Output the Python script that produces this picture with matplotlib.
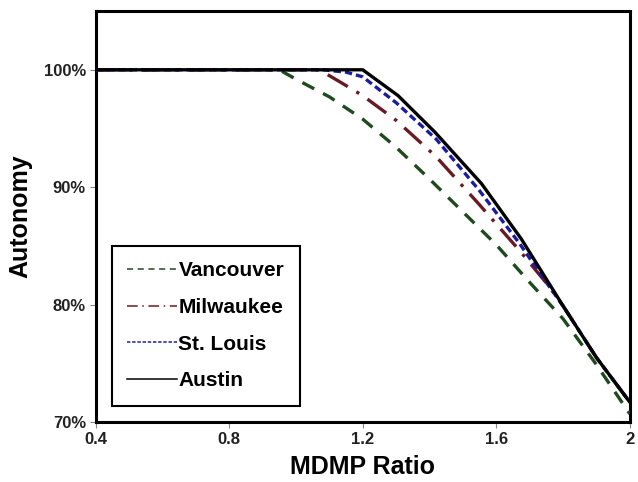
import matplotlib
matplotlib.use("Agg")
import matplotlib.pyplot as plt
from matplotlib.lines import Line2D

plt.rcParams['font.family'] = ['Liberation Sans', 'DejaVu Sans']

# Data
van_x = [0.4, 0.95, 1.0, 1.1, 1.2, 1.3, 1.4, 1.5, 1.6, 1.7, 1.8, 1.9, 2.0]
van_y = [100, 100, 99.2, 97.7, 95.8, 93.4, 90.7, 87.9, 85.1, 81.9, 78.8, 74.9, 70.7]

mil_x = [0.4, 1.07, 1.13, 1.2, 1.3, 1.42, 1.55, 1.67, 1.76, 1.8, 1.9, 2.0]
mil_y = [100, 100, 99.0, 97.8, 95.7, 92.6, 88.5, 84.6, 81.5, 79.9, 75.5, 71.7]

stl_x = [0.4, 1.08, 1.15, 1.2, 1.3, 1.42, 1.55, 1.67, 1.75, 1.8, 1.9, 2.0]
stl_y = [100, 100, 99.8, 99.4, 97.2, 94.1, 89.7, 85.2, 81.9, 79.9, 75.5, 71.7]

aus_x = [0.4, 1.2, 1.306, 1.416, 1.556, 1.675, 1.8, 1.9, 2.0]
aus_y = [100, 100, 97.8, 94.7, 90.3, 85.6, 79.9, 75.5, 71.7]

x_ticks = [0.4, 0.8, 1.2, 1.6, 2.0]
x_tick_labels = ["0.4", "0.8", "1.2", "1.6", "2"]
y_ticks = [70, 80, 90, 100]
y_tick_labels = ["70%", "80%", "90%", "100%"]

series = [
    ("Vancouver", van_x, van_y, "#1e4a1e", (0, (4, 3))),
    ("Milwaukee", mil_x, mil_y, "#6a1a22", (0, (7, 3, 1, 3))),
    ("St. Louis", stl_x, stl_y, "#1c1ca0", (0, (2.2, 1.2))),
    ("Austin", aus_x, aus_y, "#000000", "-"),
]

fig = plt.figure(figsize=(6.38, 4.82), dpi=100)
ax = fig.add_axes([0.150, 0.1245, 0.837, 0.8525])

handles = []
for name, xs, ys, col, ls in series:
    ax.plot(xs, ys, color=col, linestyle=ls, linewidth=2.4, zorder=3)
    handles.append(Line2D([], [], color=col, linestyle=ls, linewidth=1.1, label=name))

ax.set_xlim(0.4, 2.0)
ax.set_ylim(70, 105)
ax.set_xticks(x_ticks)
ax.set_xticklabels(x_tick_labels, fontsize=12, fontweight='bold', color='#222222')
ax.set_yticks(y_ticks)
ax.set_yticklabels(y_tick_labels, fontsize=12, fontweight='bold', color='#222222')
ax.tick_params(direction='out', length=4, width=0.8, color='#888888', pad=3)

for sp in ax.spines.values():
    sp.set_linewidth(2.2)
    sp.set_color('black')

ax.set_xlabel("MDMP Ratio", fontsize=18, fontweight='bold', labelpad=6)
ax.set_ylabel("Autonomy", fontsize=18, fontweight='bold', labelpad=8)

leg = ax.legend(handles=handles, loc='lower left', bbox_to_anchor=(0.03, 0.039),
                frameon=True, fancybox=False, edgecolor='black', framealpha=1,
                prop={'size': 15, 'weight': 'bold'}, handlelength=2.4,
                handletextpad=0.05, labelspacing=0.85, borderpad=0.75,
                borderaxespad=0)
leg.get_frame().set_linewidth(1.5)

fig.savefig("out.png", dpi=100)
